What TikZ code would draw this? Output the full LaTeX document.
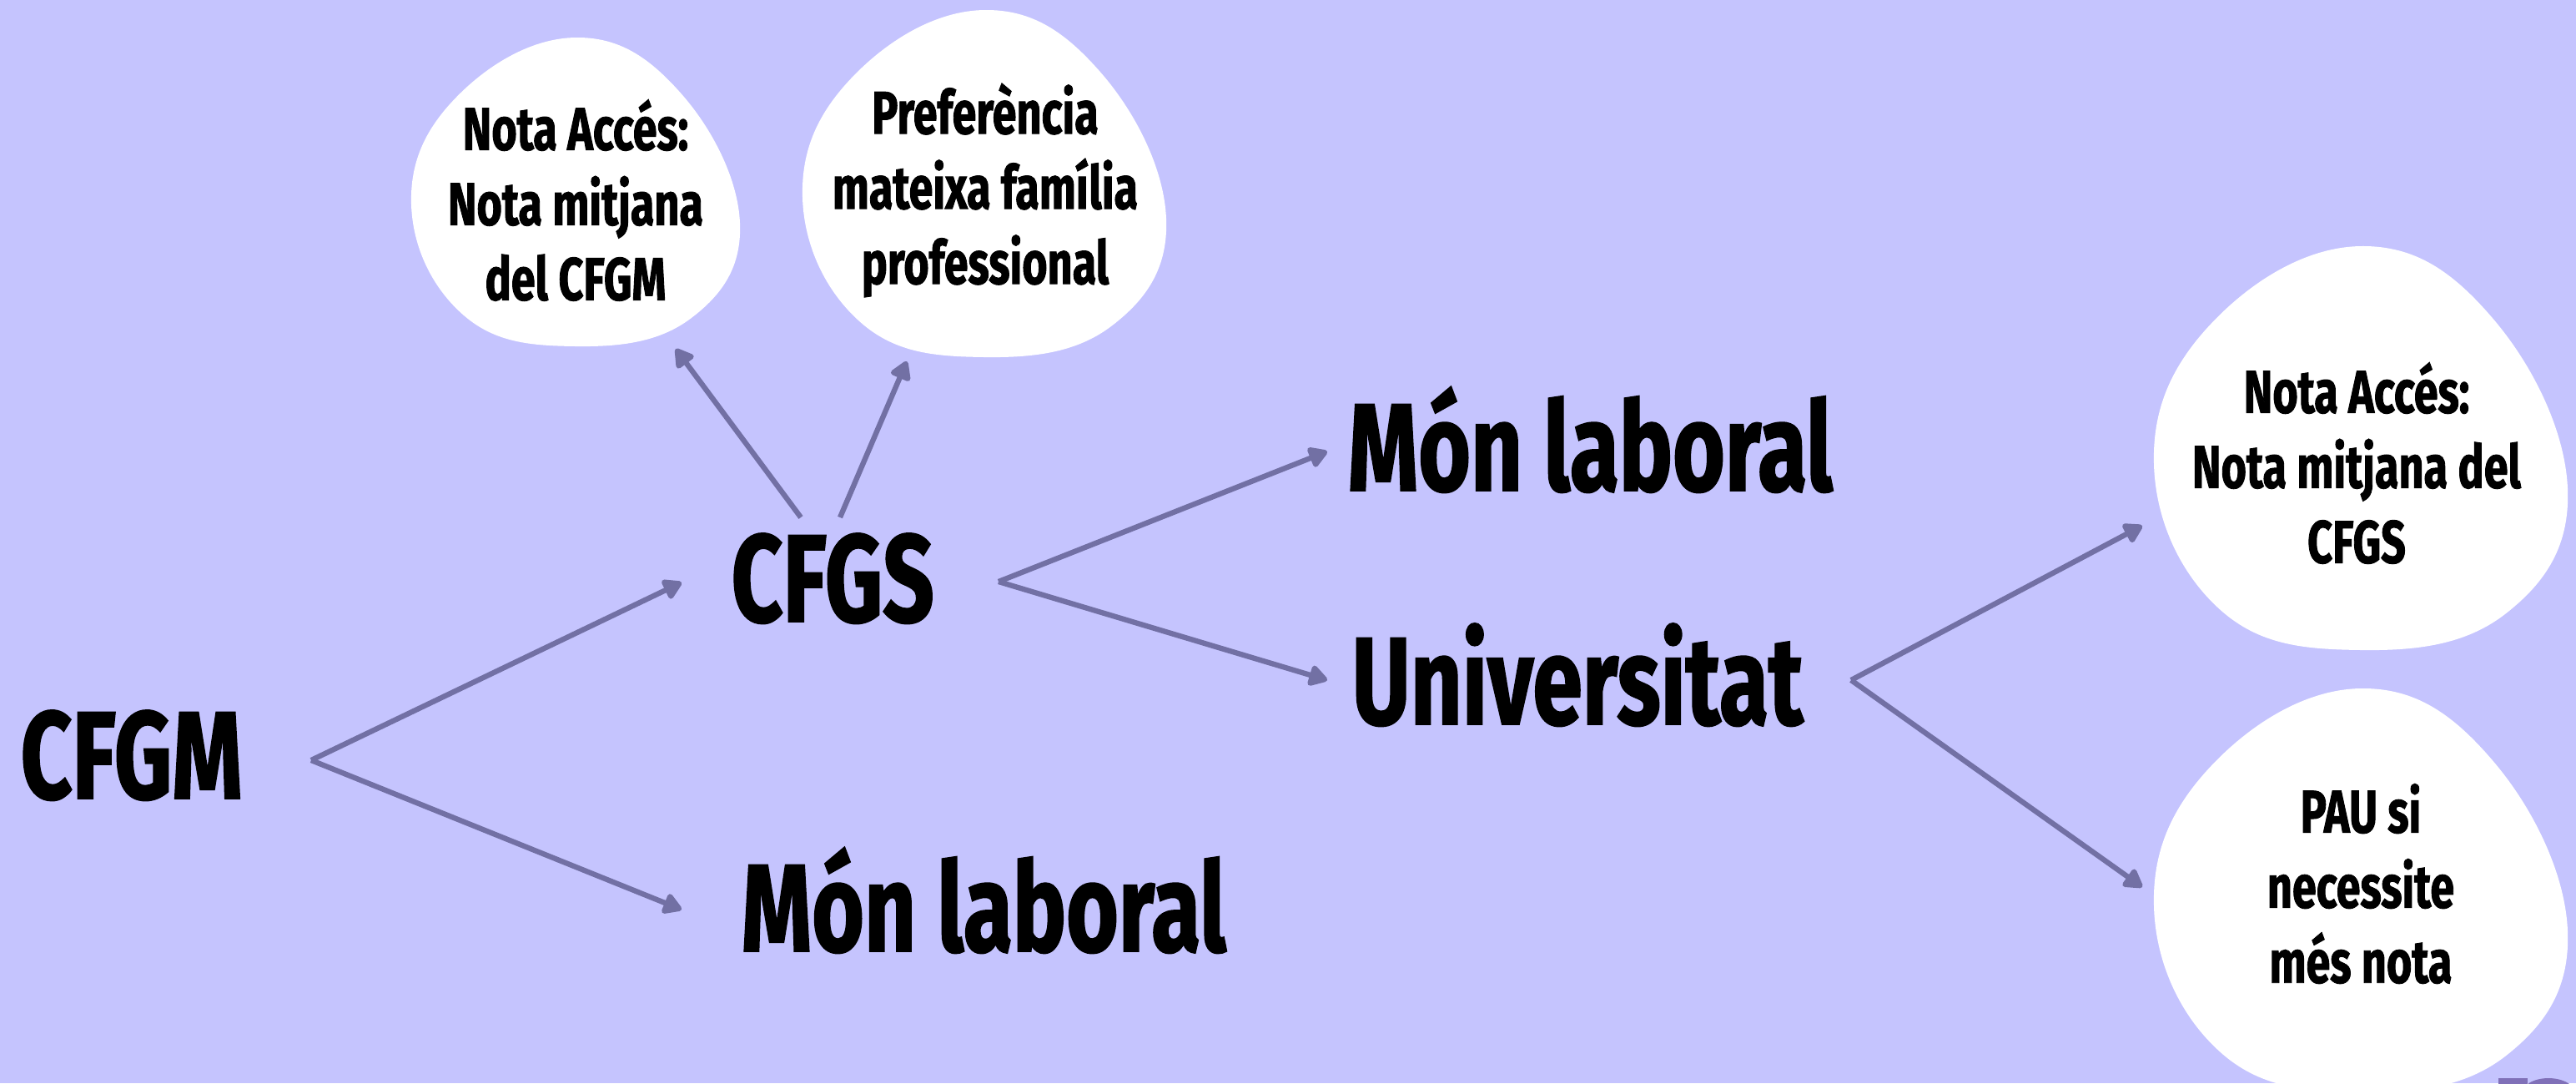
\documentclass[tikz,border=0pt]{standalone}
\usepackage{fontspec}
\usetikzlibrary{arrows.meta}
\newfontfamily\firacond{Fira Sans}[FakeStretch=0.72,FakeBold=1.2]
\definecolor{fons}{RGB}{197,196,254}
\definecolor{colfletxa}{RGB}{114,112,164}
\definecolor{logo}{RGB}{128,112,184}

% taca blanca: centre, escala x, escala y
\newcommand{\taca}[3]{%
  \fill[white,shift={#1},xscale=#2,yscale=#3] plot[smooth cycle,tension=0.7]
    coordinates {(0,1) (0.64,0.64) (1,-0.2) (0.7,-0.82) (0,-1)
      (-0.68,-0.8) (-1,-0.08) (-0.72,0.62)};}

\begin{document}
\begin{tikzpicture}[
    gran/.style={font=\firacond\bfseries\fontsize{42.5}{50}\selectfont, inner sep=0pt, anchor=base west},
    petit/.style={font=\firacond\bfseries\fontsize{20.6}{25.6}\selectfont, align=center, inner sep=0pt},
    fletxa/.style={draw=colfletxa, line width=1.8pt, -{Triangle[length=2.5mm,width=2.8mm,round]}}]
            \fill[fons] (0,0) rectangle (30.88,-12.98);
            \useasboundingbox (0,0) rectangle (30.88,-12.98);
            \taca{(6.90,-2.30)}{1.97}{1.85}
            \taca{(11.80,-2.20)}{2.18}{2.08}
            \taca{(28.30,-5.37)}{2.48}{2.42}
            \taca{(28.30,-10.67)}{2.48}{2.42}
            \fill[logo] (30.55,-13.12) ellipse (0.33 and 0.2);
            \fill[logo] (29.95,-12.92) rectangle (30.30,-13.0);
            % textos
            \node[gran] (cfgm) at (0.24,-9.57) {CFGM};
            \node[gran] (cfgs) at (8.76,-7.45) {CFGS};
            \node[gran] (monlab1) at (16.15,-5.88) {Món laboral};
            \node[gran] (univ) at (16.20,-8.68) {Universitat};
            \node[gran] (monlab2) at (8.88,-11.40) {Món laboral};
            \node[petit] (accesgm) at (6.90,-2.40) {Nota Accés:\\Nota mitjana\\del CFGM};
            \node[petit] (prefer) at (11.81,-2.28) {Preferència\\mateixa família\\professional};
            \node[petit] (accesgs) at (28.25,-5.55) {Nota Accés:\\Nota mitjana del\\CFGS};
            \node[petit] (pau) at (28.30,-10.59) {PAU si\\necessite\\més nota};
            % punts de les fletxes
            \coordinate (cfgmhub) at (3.73,-9.11);
            \coordinate (cfgsin) at (8.17,-6.98);
            \coordinate (monlab2in) at (8.17,-10.90);
            \coordinate (cfgsup1) at (9.60,-6.20);
            \coordinate (accesgmin) at (8.10,-4.18);
            \coordinate (cfgsup2) at (10.07,-6.20);
            \coordinate (preferin) at (10.87,-4.33);
            \coordinate (cfgshub) at (11.97,-6.97);
            \coordinate (monlab1in) at (15.91,-5.41);
            \coordinate (univin) at (15.91,-8.15);
            \coordinate (univhub) at (22.19,-8.15);
            \coordinate (accesgsin) at (25.68,-6.30);
            \coordinate (pauin) at (25.68,-10.63);
            \draw[fletxa] (cfgmhub) -- (cfgsin);
            \draw[fletxa] (cfgmhub) -- (monlab2in);
            \draw[fletxa] (cfgsup1) -- (accesgmin);
            \draw[fletxa] (cfgsup2) -- (preferin);
            \draw[fletxa] (cfgshub) -- (monlab1in);
            \draw[fletxa] (cfgshub) -- (univin);
            \draw[fletxa] (univhub) -- (accesgsin);
            \draw[fletxa] (univhub) -- (pauin);
        \end{tikzpicture}
\end{document}
